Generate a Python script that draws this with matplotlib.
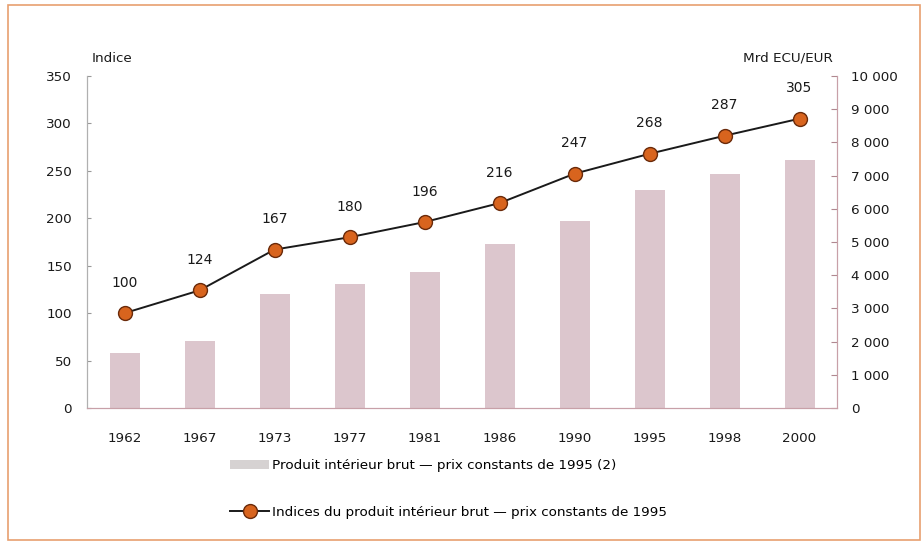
import matplotlib
matplotlib.use("Agg")
import matplotlib.pyplot as plt
from matplotlib.patches import Patch, Rectangle
from matplotlib.lines import Line2D

years = ["1962", "1967", "1973", "1977", "1981", "1986", "1990", "1995", "1998", "2000"]
gdp = [1650, 2030, 3420, 3750, 4090, 4930, 5620, 6570, 7050, 7470]
index = [100, 124, 167, 180, 196, 216, 247, 268, 287, 305]
left_ticks = [0, 50, 100, 150, 200, 250, 300, 350]
right_ticks = [0, 1000, 2000, 3000, 4000, 5000, 6000, 7000, 8000, 9000, 10000]
right_labels = ["0", "1 000", "2 000", "3 000", "4 000", "5 000", "6 000", "7 000", "8 000", "9 000", "10 000"]

plt.rcParams['font.family'] = ['DejaVu Sans']
fs = 9.7
txt = "#1a1a1a"

fig = plt.figure(figsize=(9.23, 5.44), dpi=100)
ax = fig.add_axes([87/923, 1-408/544, 750/923, 332/544])
ax2 = ax.twinx()

x = list(range(len(years)))
bar_color = "#dcc6cd"
ax2.bar(x, gdp, width=0.4, color=bar_color, zorder=1)
ax2.set_ylim(0, 10000)
ax2.set_yticks(right_ticks)
ax2.set_yticklabels(right_labels, fontsize=fs, color=txt)
ax2.tick_params(axis='y', direction='in', length=4, color="#b08890", pad=10)

ax.set_zorder(ax2.get_zorder() + 1)
ax.patch.set_visible(False)
ax.plot(x, index, color="#1a1a1a", lw=1.4, marker='o', markersize=10,
        markerfacecolor="#d8641e", markeredgecolor="#6a2a0a", markeredgewidth=1.0, zorder=3)
for xi, v in zip(x, index):
    ax.annotate(str(v), (xi, v), xytext=(0, 22), textcoords='offset points',
                ha='center', va='center', fontsize=fs + 0.3, color=txt)
ax.set_ylim(0, 350)
ax.set_xlim(-0.5, len(years) - 0.5)
ax.set_yticks(left_ticks)
ax.set_yticklabels([str(t) for t in left_ticks], fontsize=fs, color=txt)
ax.tick_params(axis='y', direction='in', length=3, color="#999999", pad=11)
ax.set_xticks(x)
ax.set_xticklabels(years, fontsize=fs, color=txt)
ax.tick_params(axis='x', length=0, pad=17)

for a in (ax, ax2):
    a.spines['top'].set_visible(False)
    a.spines['left'].set_color("#b0b0b0")
    a.spines['right'].set_color("#c8a0a8")
    a.spines['bottom'].set_color("#c8a0a8")
    a.spines['left'].set_linewidth(0.8)
    a.spines['right'].set_linewidth(0.8)
    a.spines['bottom'].set_linewidth(0.8)

fig.text(92/923, 1-58/544, "Indice", fontsize=fs, color=txt, ha='left', va='center')
fig.text(833/923, 1-58/544, "Mrd ECU/EUR", fontsize=fs, color=txt, ha='right', va='center')

handles = [Patch(facecolor="#d6d2d2", edgecolor='none'),
           Line2D([0], [0], color="#1a1a1a", lw=1.4, marker='o', markersize=10,
                  markerfacecolor="#d8641e", markeredgecolor="#6a2a0a")]
labels = ["Produit intérieur brut — prix constants de 1995 (2)",
          "Indices du produit intérieur brut — prix constants de 1995"]
fig.legend(handles, labels, loc='upper left', bbox_to_anchor=(230/923, 1-459/544),
           frameon=False, fontsize=fs, handlelength=2.9, handletextpad=0.2,
           labelspacing=2.5, borderaxespad=0, borderpad=0)

fig.add_artist(Rectangle((8/923, 4/544), 912/923, 535/544, transform=fig.transFigure,
                         fill=False, edgecolor="#e8a070", lw=1.2))

fig.savefig("out.png", dpi=100)
